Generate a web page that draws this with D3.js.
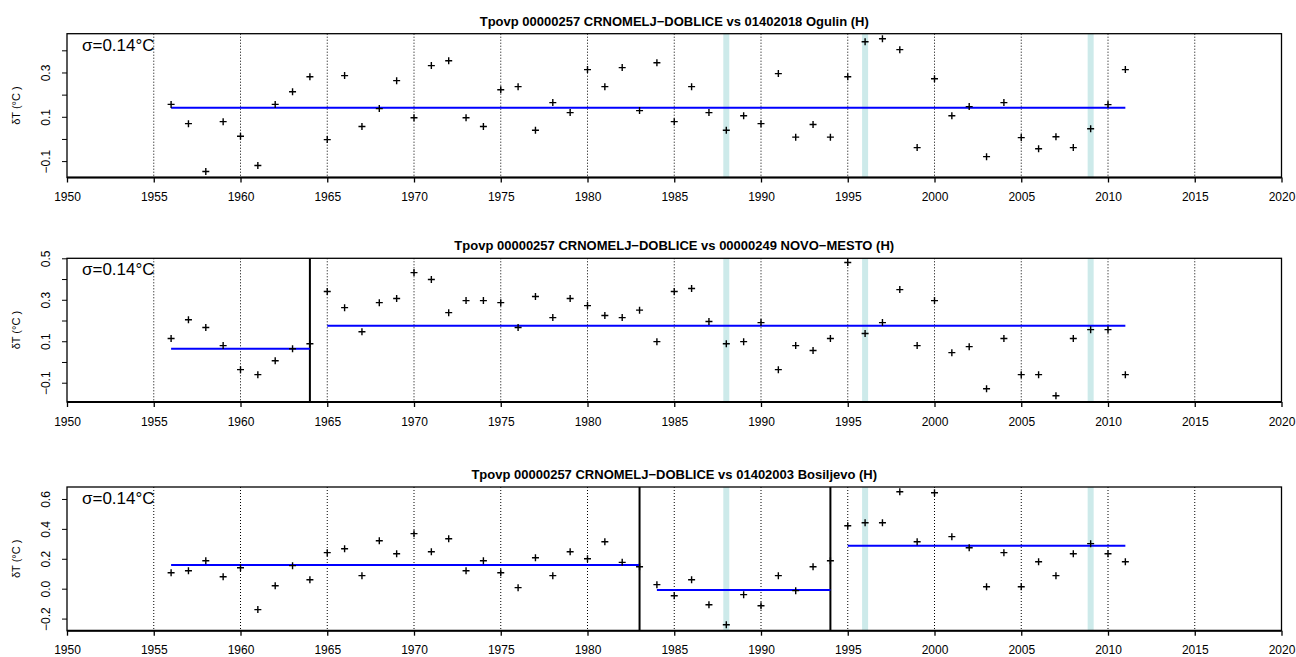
<!DOCTYPE html>
<html>
<head>
<meta charset="utf-8">
<script src="https://cdn.jsdelivr.net/npm/d3@7"></script>
<style>
  body { margin: 0; background: #fff; }
  svg text { font-family: "Liberation Sans", Arial, Helvetica, sans-serif; }
</style>
</head>
<body>
<span></span>
<script>
// homogenisation plots: station difference series vs three references

const years = d3.range(1956, 2012);

const titles = [
    "Tpovp 00000257 CRNOMELJ\u2212DOBLICE vs 01402018 Ogulin (H)",
    "Tpovp 00000257 CRNOMELJ\u2212DOBLICE vs 00000249 NOVO\u2212MESTO (H)",
    "Tpovp 00000257 CRNOMELJ\u2212DOBLICE vs 01402003 Bosiljevo (H)"
];

const sigmaLabels = ["\u03c3=0.14\u00b0C", "\u03c3=0.14\u00b0C", "\u03c3=0.14\u00b0C"];

// difference values 1956..2011
const diffOgulin = [0.156, 0.069, -0.147, 0.078, 0.012, -0.120, 0.156, 0.213, 0.281, -0.003,
    0.286, 0.056, 0.137, 0.263, 0.096, 0.331, 0.353, 0.096, 0.056, 0.222,
    0.236, 0.039, 0.164, 0.119, 0.313, 0.236, 0.322, 0.128, 0.344, 0.078,
    0.236, 0.119, 0.039, 0.105, 0.069, 0.295, 0.008, 0.065, 0.008, 0.281,
    0.439, 0.452, 0.403, -0.039, 0.272, 0.105, 0.146, -0.080, 0.164, 0.006,
    -0.044, 0.010, -0.039, 0.046, 0.155, 0.313];

const diffNovoMesto = [0.113, 0.204, 0.166, 0.079, -0.037, -0.061, 0.006, 0.064, 0.088, 0.340,
    0.262, 0.146, 0.286, 0.306, 0.431, 0.398, 0.238, 0.296, 0.296, 0.286,
    0.166, 0.316, 0.214, 0.306, 0.272, 0.224, 0.214, 0.250, 0.098, 0.340,
    0.354, 0.195, 0.088, 0.098, 0.190, -0.037, 0.079, 0.055, 0.113, 0.480,
    0.137, 0.190, 0.349, 0.079, 0.296, 0.045, 0.074, -0.129, 0.113, -0.061,
    -0.061, -0.163, 0.113, 0.156, 0.156, -0.061];

const diffBosiljevo = [0.107, 0.120, 0.187, 0.080, 0.140, -0.140, 0.020, 0.154, 0.060, 0.241,
    0.267, 0.087, 0.321, 0.234, 0.368, 0.247, 0.334, 0.120, 0.187, 0.107,
    0.007, 0.207, 0.087, 0.247, 0.200, 0.314, 0.176, 0.147, 0.027, -0.047,
    0.060, -0.107, -0.241, -0.040, -0.114, 0.087, -0.013, 0.147, 0.187, 0.421,
    0.441, 0.441, 0.648, 0.314, 0.642, 0.348, 0.274, 0.013, 0.241, 0.013,
    0.180, 0.087, 0.234, 0.301, 0.234, 0.180];

// segment means: [start year, end year, mean]
const meansOgulin = [[1956, 2011, 0.141]];
const meansNovoMesto = [[1956, 1964, 0.064], [1965, 2011, 0.175]];
const meansBosiljevo = [[1956, 1983, 0.158], [1984, 1994, -0.009], [1995, 2011, 0.287]];

// detected breaks (black) and metadata years (cyan)
const breaksOgulin = [];
const breaksNovoMesto = [1964];
const breaksBosiljevo = [1983, 1994];
const metaYears = [1988, 1996, 2009];

const yDomains = [[-0.174, 0.475], [-0.193, 0.5], [-0.281, 0.68]];
const yTicks = [[-0.1, 0.0, 0.1, 0.2, 0.3, 0.4], [-0.1, 0.0, 0.1, 0.2, 0.3, 0.4, 0.5], [-0.2, 0.0, 0.2, 0.4, 0.6]];
const yLabelled = [[-0.1, 0.1, 0.3], [-0.1, 0.1, 0.3, 0.5], [-0.2, 0.0, 0.2, 0.4, 0.6]];
const yFormats = [".1f", ".1f", ".1f"];
const xTicks = d3.range(1950, 2021, 5);

const series = [diffOgulin, diffNovoMesto, diffBosiljevo];
const means = [meansOgulin, meansNovoMesto, meansBosiljevo];
const breaks = [breaksOgulin, breaksNovoMesto, breaksBosiljevo];

var width = 1296, height = 657;
var left = 67, right = 1281.5;
var panelTop = [33.7, 258.3, 487];
var panelBottom = [177.5, 402, 630.7];

const svg = d3.select("span")
    .append("svg")
    .attr("width", width)
    .attr("height", height)
    .style("display", "block");

const xScale = d3.scaleLinear()
    .domain([1950, 2020])
    .range([left, right]);

function minus(s) { return s.replace("-", "\u2212"); }

for (let p = 0; p < 3; p++) {
    const top = panelTop[p], bottom = panelBottom[p];
    const yScale = d3.scaleLinear()
        .domain(yDomains[p])
        .range([bottom, top]);
    const g = svg.append("g");

    // metadata bands
    g.selectAll(".band")
        .data(metaYears)
        .enter()
        .append("rect")
            .attr("x", d => xScale(d) - 3)
            .attr("y", top)
            .attr("width", 6)
            .attr("height", bottom - top)
            .attr("fill", "#cdeaea");

    // dotted grid
    g.selectAll(".grid")
        .data(xTicks.slice(1, -1))
        .enter()
        .append("line")
            .attr("x1", d => xScale(d)).attr("x2", d => xScale(d))
            .attr("y1", top).attr("y2", bottom)
            .attr("stroke", "#000")
            .attr("stroke-width", 1)
            .attr("stroke-dasharray", "1,2");

    // breaks
    g.selectAll(".brk")
        .data(breaks[p])
        .enter()
        .append("line")
            .attr("x1", d => xScale(d)).attr("x2", d => xScale(d))
            .attr("y1", top).attr("y2", bottom)
            .attr("stroke", "#000")
            .attr("stroke-width", 2);

    // segment means
    g.selectAll(".mean")
        .data(means[p])
        .enter()
        .append("line")
            .attr("x1", d => xScale(d[0])).attr("x2", d => xScale(d[1]))
            .attr("y1", d => yScale(d[2])).attr("y2", d => yScale(d[2]))
            .attr("stroke", "#0000ff")
            .attr("stroke-width", 2);

    // points as plus signs
    const pts = years.map((yr, i) => ({ year: yr, value: series[p][i] }));
    g.selectAll(".pt")
        .data(pts)
        .enter()
        .append("path")
            .attr("d", d => {
                const cx = xScale(d.year), cy = yScale(d.value);
                return `M${cx - 3.5},${cy}H${cx + 3.5}M${cx},${cy - 3.5}V${cy + 3.5}`;
            })
            .attr("stroke", "#000")
            .attr("stroke-width", 1.4)
            .attr("fill", "none");

    // box
    g.append("rect")
        .attr("x", left).attr("y", top)
        .attr("width", right - left).attr("height", bottom - top)
        .attr("fill", "none")
        .attr("stroke", "#000")
        .attr("stroke-width", 1.3);
    g.append("line")
        .attr("x1", left).attr("x2", right)
        .attr("y1", bottom).attr("y2", bottom)
        .attr("stroke", "#000").attr("stroke-width", 2);

    // x axis
    const xAxis = g.append("g")
        .attr("transform", `translate(0, ${bottom})`)
        .call(d3.axisBottom(xScale).tickValues(xTicks).tickFormat(d3.format("d")).tickSize(5).tickPadding(10));
    xAxis.select(".domain").remove();
    xAxis.selectAll("line").attr("stroke-width", 1.3);
    xAxis.selectAll("text").attr("font-size", "12px").attr("fill", "#000")
        .style("font-family", "'Liberation Sans', Arial, sans-serif");

    // y axis
    const fmt = d3.format(yFormats[p]);
    const yAxis = g.append("g")
        .attr("transform", `translate(${left}, 0)`)
        .call(d3.axisLeft(yScale).tickValues(yTicks[p])
            .tickFormat(d => yLabelled[p].some(v => Math.abs(v - d) < 1e-9) ? minus(fmt(d)) : "")
            .tickSize(5).tickPadding(0));
    yAxis.select(".domain").remove();
    yAxis.selectAll("line").attr("stroke-width", 1);
    yAxis.selectAll("text")
        .attr("font-size", "12px").attr("fill", "#000")
        .style("font-family", "'Liberation Sans', Arial, sans-serif")
        .attr("text-anchor", "middle")
        .attr("dy", null)
        .attr("x", null)
        .attr("transform", "translate(-21,0) rotate(-90)")
        .attr("dominant-baseline", "central");

    // y title
    g.append("text")
        .attr("transform", `translate(16, ${(top + bottom) / 2}) rotate(-90)`)
        .attr("text-anchor", "middle")
        .attr("dominant-baseline", "central")
        .attr("font-size", "11px")
        .text("\u03b4T (\u00b0C )");

    // title
    g.append("text")
        .attr("x", (left + right) / 2)
        .attr("y", top - 8)
        .attr("text-anchor", "middle")
        .attr("font-size", "13px")
        .attr("font-weight", "bold")
        .text(titles[p]);

    // sigma
    g.append("text")
        .attr("x", left + 15)
        .attr("y", top + 17)
        .attr("font-size", "17px")
        .text(sigmaLabels[p]);
}
</script>
</body>
</html>
